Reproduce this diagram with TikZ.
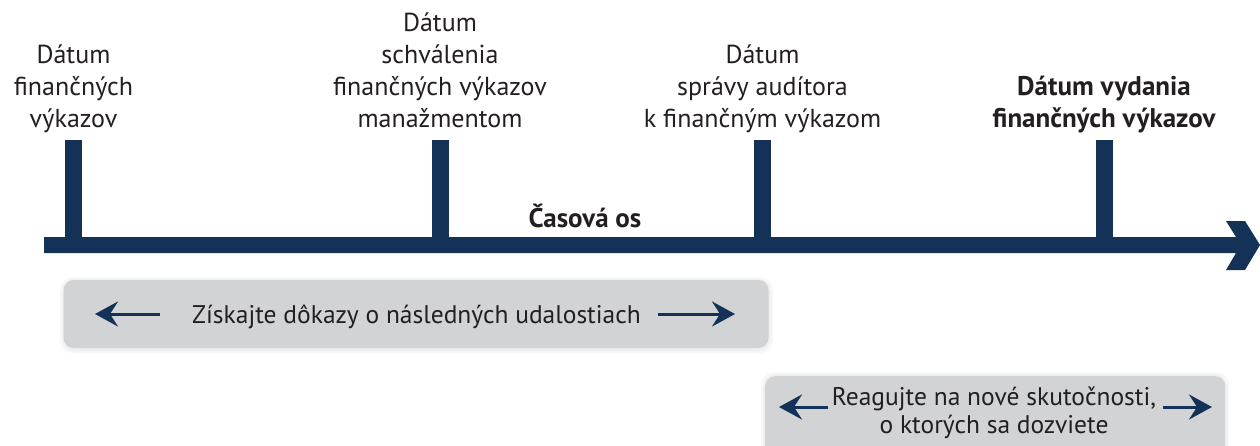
\documentclass[tikz,border=0pt]{standalone}
\usepackage{fontspec}
\setmainfont{PT Sans}
\usetikzlibrary{arrows.meta}
\definecolor{navy}{HTML}{143158}
\definecolor{panel}{HTML}{D1D3D5}
\definecolor{ink}{HTML}{231F20}
\begin{document}
\begin{tikzpicture}[x=1pt,y=-1pt,
  lbl/.style={font=\fontsize{26}{32}\selectfont, align=center, text=ink, inner sep=0pt, anchor=base},
  boldlbl/.style={lbl, font=\fontsize{27}{32}\selectfont\bfseries},
  paneltext/.style={lbl, font=\fontsize{25.5}{28}\selectfont},
  tickbar/.style={fill=navy, inner sep=0pt, minimum width=17pt, minimum height=98pt, anchor=north},
  panelbox/.style={fill=panel, rounded corners=10pt, inner sep=0pt},
  halo/.style={fill=black, opacity=0.03, rounded corners=13pt, inner sep=0pt},
  spanarrow/.style={draw=navy, line width=3pt, -{Stealth[length=23pt,width=25pt,inset=8pt]}},
]
\useasboundingbox (0,0) rectangle (1260,445);

% time axis with chevron head
\fill[navy] (44,237) -- (1236,237) -- (1226,221) -- (1245,221) -- (1260,245)
  -- (1245,270) -- (1226,270) -- (1236,253) -- (44,253) -- cycle;

% ticks
\node[tickbar] (t1) at (73.5,140) {};
\node[tickbar] (t2) at (440,140) {};
\node[tickbar] (t3) at (762.5,140) {};
\node[tickbar] (t4) at (1104,140) {};

% tick labels (anchored at the baseline of the last line)
\node[lbl] (l1) at (73.5,127) {Dátum\\finančných\\výkazov};
\node[lbl] (l2) at (440,127) {Dátum\\schválenia\\finančných výkazov\\manažmentom};
\node[lbl] (l3) at (762.5,127) {Dátum\\správy audítora\\k finančným výkazom};
\node[boldlbl] (l4) at (1104,127) {Dátum vydania\\finančných výkazov};
\node[boldlbl] (axis) at (585,227) {Časová os};

% panel: subsequent events (soft shadow, then the panel)
\node[halo, minimum width=713pt, minimum height=76pt] at (416.5,315) {};
\node[halo, minimum width=709pt, minimum height=72pt] at (416.5,315) {};
\node[panelbox, minimum width=705pt, minimum height=68pt] (b1) at (416,314) {};
\node[paneltext] (p1) at (416.5,323) {Získajte dôkazy o následných udalostiach};
\coordinate (a1s) at (160,314);
\coordinate (a1e) at (95,314);
\coordinate (a2s) at (658,314);
\coordinate (a2e) at (735,314);
\draw[spanarrow] (a1s) -- (a1e);
\draw[spanarrow] (a2s) -- (a2e);

% panel: facts that become known
\node[halo, minimum width=468pt, minimum height=88pt, anchor=north west] at (761,372) {};
\node[halo, minimum width=464pt, minimum height=84pt, anchor=north west] at (763,374) {};
\node[panelbox, minimum width=460pt, minimum height=80pt, anchor=north west] (b2) at (765,376) {};
\node[paneltext] (p2) at (994,433) {Reagujte na nové skutočnosti,\\o ktorých sa dozviete};
\coordinate (a3s) at (828,407);
\coordinate (a3e) at (779,407);
\coordinate (a4s) at (1163,407);
\coordinate (a4e) at (1212,407);
\draw[spanarrow] (a3s) -- (a3e);
\draw[spanarrow] (a4s) -- (a4e);
\end{tikzpicture}
\end{document}
